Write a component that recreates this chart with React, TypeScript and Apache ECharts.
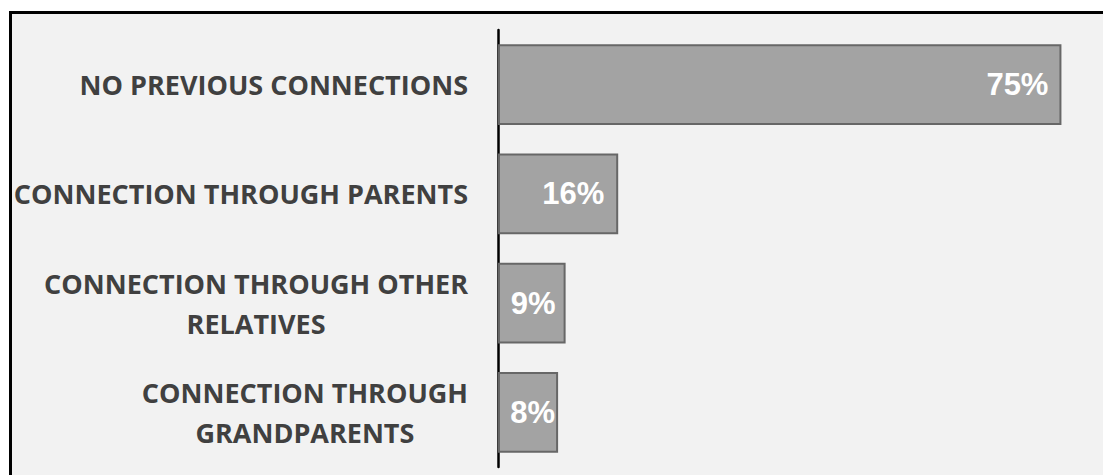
import React, { useEffect, useRef } from "react";
import * as echarts from "echarts";

const categories = [
  "NO PREVIOUS CONNECTIONS",
  "CONNECTION THROUGH PARENTS",
  "CONNECTION THROUGH OTHER\nRELATIVES",
  "CONNECTION THROUGH\nGRANDPARENTS",
];
const values = [75, 16, 9, 8];
const labelInsets = [13, 14, 10, 3];

export default function App() {
  const ref = useRef<HTMLDivElement>(null);
  useEffect(() => {
    if (!ref.current) return;
    const chart = echarts.init(ref.current, null, { renderer: "svg" });
    chart.setOption({
      animation: false,
      backgroundColor: "#ffffff",
      graphic: [
        {
          type: "rect",
          z: -10,
          silent: true,
          shape: { x: 10.5, y: 12.5, width: 3000, height: 3000 },
          style: { fill: "#f2f2f2", stroke: "#000000", lineWidth: 3 },
        },
      ],
      grid: { left: 498, top: 30, height: 437, width: 601 },
      xAxis: {
        type: "value",
        min: 0,
        max: 80,
        show: false,
        splitLine: { show: false },
      },
      yAxis: {
        type: "category",
        inverse: true,
        data: categories,
        axisTick: { show: false },
        axisLine: { show: true, lineStyle: { color: "#000000", width: 2.5 } },
        axisLabel: {
          margin: 30,
          align: "right",
          formatter: (v: string) =>
            v
              .split("\n")
              .map((l) => `{a|${l}}`)
              .join("\n"),
          rich: {
            a: {
              fontFamily: "Open Sans",
              fontWeight: "bold",
              fontSize: 27,
              color: "#404040",
              lineHeight: 40,
              align: "center",
            },
          },
        },
      },
      series: [
        {
          type: "bar",
          barCategoryGap: "26%",
          data: values.map((v, i) => ({
            value: v,
            label: { distance: labelInsets[i] },
          })),
          itemStyle: {
            color: "#a3a3a3",
            borderColor: "#676767",
            borderWidth: 2,
          },
          label: {
            show: true,
            position: "insideRight",
            formatter: (p: any) => `${p.value}%`,
            color: "#ffffff",
            fontFamily: "Liberation Sans",
            fontWeight: "bold",
            fontSize: 31,
          },
        },
      ],
    });
    return () => chart.dispose();
  }, []);
  return (
    <div
      ref={ref}
      style={{ position: "absolute", left: 0, top: 0, width: 1103, height: 475 }}
    />
  );
}
